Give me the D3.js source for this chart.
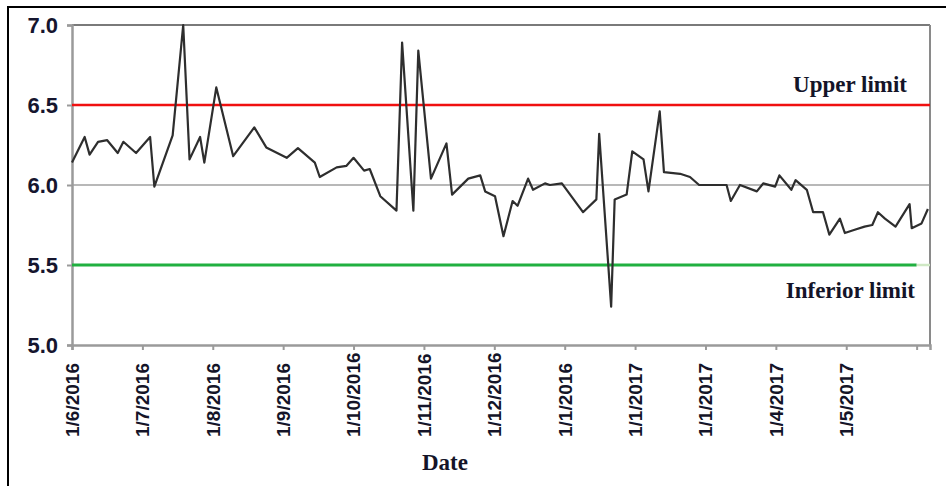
<!DOCTYPE html>
<html>
<head>
<meta charset="utf-8">
<script src="https://cdn.jsdelivr.net/npm/d3@7"></script>
<style>
  html, body { margin: 0; padding: 0; background: #fff; }
  svg { display: block; }
</style>
</head>
<body>
<svg id="chart" width="946" height="486"></svg>
<script>
// ---- data ----
// sample time, in months since 1 June 2016
const sampleMonth = [0, 0.18, 0.25, 0.37, 0.50, 0.65, 0.73, 0.91, 1.11, 1.17, 1.43, 1.58, 1.67, 1.82, 1.88,
  2.05, 2.29, 2.59, 2.76, 3.05, 3.21, 3.45, 3.52, 3.76, 3.90, 4.00, 4.15, 4.23, 4.38, 4.61, 4.69, 4.85,
  4.92, 5.10, 5.32, 5.40, 5.63, 5.80, 5.87, 6.01, 6.13, 6.26, 6.33, 6.48, 6.55, 6.72, 6.79, 6.96, 7.26,
  7.45, 7.49, 7.66, 7.71, 7.88, 7.96, 8.12, 8.19, 8.35, 8.41, 8.64, 8.78, 8.91, 9.30, 9.36, 9.49, 9.73,
  9.82, 9.99, 10.05, 10.22, 10.28, 10.44, 10.53, 10.67, 10.76, 10.91, 10.98, 11.12, 11.26, 11.37, 11.45,
  11.55, 11.70, 11.90, 11.93, 12.07, 12.16];
const phValues = [6.14, 6.30, 6.19, 6.27, 6.28, 6.20, 6.27, 6.20, 6.30, 5.99, 6.31, 7.00, 6.16, 6.30, 6.14,
  6.61, 6.18, 6.36, 6.235, 6.17, 6.23, 6.14, 6.05, 6.11, 6.12, 6.17, 6.09, 6.10, 5.93, 5.84, 6.89, 5.84,
  6.84, 6.04, 6.26, 5.94, 6.04, 6.06, 5.96, 5.93, 5.68, 5.90, 5.87, 6.04, 5.97, 6.01, 6.00, 6.01, 5.83,
  5.91, 6.32, 5.24, 5.91, 5.94, 6.21, 6.16, 5.96, 6.46, 6.08, 6.07, 6.05, 6.00, 6.00, 5.90, 6.00, 5.96,
  6.01, 5.99, 6.06, 5.97, 6.03, 5.97, 5.83, 5.83, 5.69, 5.79, 5.70, 5.72, 5.74, 5.75, 5.83,
  5.79, 5.74, 5.88, 5.73, 5.76, 5.85];
const tickLabels = ["1/6/2016", "1/7/2016", "1/8/2016", "1/9/2016", "1/10/2016", "1/11/2016",
  "1/12/2016", "1/1/2016", "1/1/2017", "1/1/2017", "1/4/2017", "1/5/2017", ""];
const yTicks = [5.0, 5.5, 6.0, 6.5, 7.0];
const upperLimit = 6.5;
const lowerLimit = 5.5;
const upperLabel = "Upper limit";
const lowerLabel = "Inferior limit";
const xTitle = "Date";

// ---- layout ----
const svg = d3.select("#chart");
const L = 72, R = 930, T = 25, B = 345;
const x = d3.scaleLinear().domain([0, 12.19]).range([L, R]);
const y = d3.scaleLinear().domain([5, 7]).range([B, T]);

// outer frame
svg.append("rect").attr("x", 8).attr("y", 7).attr("width", 960).attr("height", 500)
  .attr("fill", "none").attr("stroke", "#000").attr("stroke-width", 2);

// gridlines
svg.append("g").selectAll("line").data([5.5, 6.0, 6.5]).join("line")
  .attr("x1", L).attr("x2", R).attr("y1", d => y(d)).attr("y2", d => y(d))
  .attr("stroke", "#b8b8b8").attr("stroke-width", 2);

// plot frame: top & right
svg.append("line").attr("x1", L).attr("x2", R).attr("y1", y(7)).attr("y2", y(7))
  .attr("stroke", "#7a7a7a").attr("stroke-width", 2.2);
svg.append("line").attr("x1", R).attr("x2", R).attr("y1", T).attr("y2", B)
  .attr("stroke", "#8a8a8a").attr("stroke-width", 2);

// y axis
const yAxis = d3.axisLeft(y).tickValues(yTicks).tickFormat(d3.format(".1f")).tickSize(5).tickPadding(9);
const gy = svg.append("g").attr("transform", `translate(${L},0)`).call(yAxis);
gy.select(".domain").attr("stroke", "#9a9a9a").attr("stroke-width", 2.5);
gy.selectAll(".tick line").attr("stroke", "#9a9a9a").attr("stroke-width", 2);
gy.selectAll(".tick text").attr("font-family", "Liberation Sans, Arial, sans-serif")
  .attr("font-weight", "bold").attr("font-size", 22).attr("fill", "#15152e");

// x axis
const monthTicks = d3.range(tickLabels.length);
const xAxis = d3.axisBottom(x).tickValues(monthTicks).tickFormat("").tickSize(5);
const gx = svg.append("g").attr("transform", `translate(0,${B})`).call(xAxis);
gx.select(".domain").attr("stroke", "#9a9a9a").attr("stroke-width", 2.5);
gx.selectAll(".tick line").attr("stroke", "#9a9a9a").attr("stroke-width", 2);

svg.append("g").selectAll("text").data(monthTicks.filter(i => tickLabels[i] !== "")).join("text")
  .attr("transform", i => `translate(${x(i)},437) rotate(-90)`)
  .attr("dy", "0.36em")
  .attr("text-anchor", "start")
  .attr("font-family", "Liberation Sans, Arial, sans-serif")
  .attr("font-weight", "bold").attr("font-size", 19).attr("fill", "#141428")
  .text(i => tickLabels[i]);

// limit lines
svg.append("line").attr("x1", L).attr("x2", R).attr("y1", y(upperLimit)).attr("y2", y(upperLimit))
  .attr("stroke", "#f01010").attr("stroke-width", 2.6);
svg.append("line").attr("x1", L).attr("x2", x(12)).attr("y1", y(lowerLimit)).attr("y2", y(lowerLimit))
  .attr("stroke", "#20b040").attr("stroke-width", 3.2);
svg.append("line").attr("x1", x(12)).attr("x2", R).attr("y1", y(lowerLimit)).attr("y2", y(lowerLimit))
  .attr("stroke", "#cfe8c4").attr("stroke-width", 2.5);

// data line
const pts = sampleMonth.map((m, i) => [m, phValues[i]]);
svg.append("path").datum(pts)
  .attr("d", d3.line().x(d => x(d[0])).y(d => y(d[1])))
  .attr("fill", "none").attr("stroke", "#2e2e2e").attr("stroke-width", 2.2)
  .attr("stroke-linejoin", "round");

// limit labels
svg.append("text").attr("x", 907).attr("y", 92).attr("text-anchor", "end")
  .attr("font-family", "Liberation Serif, Times New Roman, serif").attr("font-weight", "bold")
  .attr("font-size", 23).attr("fill", "#141428").text(upperLabel);
svg.append("text").attr("x", 915).attr("y", 298).attr("text-anchor", "end")
  .attr("font-family", "Liberation Serif, Times New Roman, serif").attr("font-weight", "bold")
  .attr("font-size", 23).attr("fill", "#141428").text(lowerLabel);

// x title
svg.append("text").attr("x", 445).attr("y", 470).attr("text-anchor", "middle")
  .attr("font-family", "Liberation Serif, Times New Roman, serif").attr("font-weight", "bold")
  .attr("font-size", 23).attr("fill", "#141428").text(xTitle);
</script>
</body>
</html>
